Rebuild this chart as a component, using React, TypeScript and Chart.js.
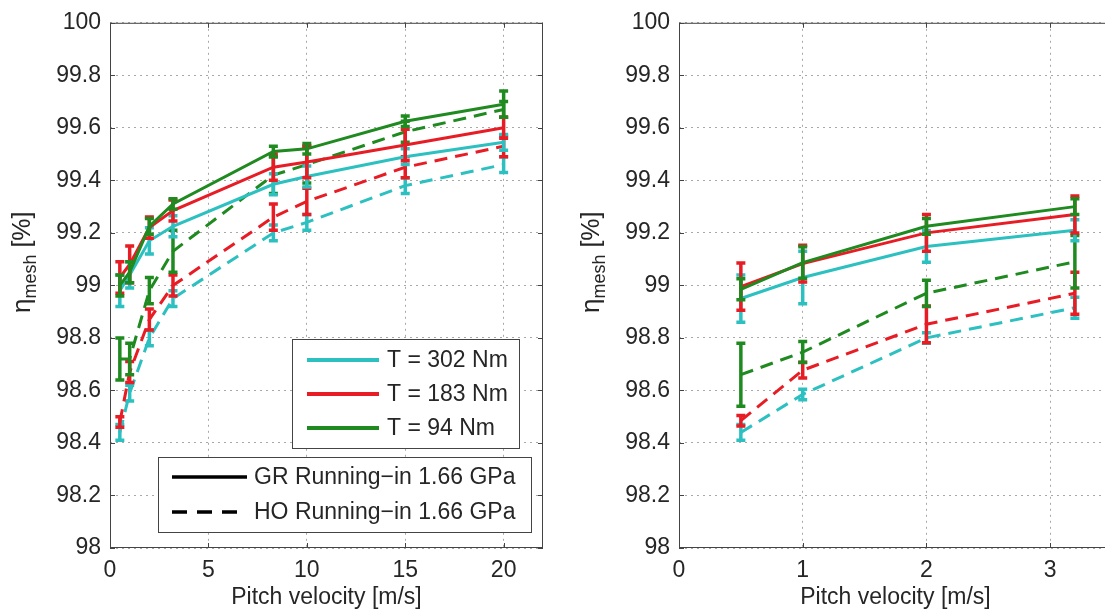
import React, { useEffect, useRef } from "react";
import { Chart, registerables } from "chart.js";

Chart.register(...registerables);

// ---------- data ----------
const leftX = [0.5, 1, 2, 3.2, 8.3, 10, 15, 20];
const rightX = [0.5, 1, 2, 3.2];
const leftXTicks = [0, 5, 10, 15, 20];
const rightXTicks = [0, 1, 2, 3];
const yTicks = [98, 98.2, 98.4, 98.6, 98.8, 99, 99.2, 99.4, 99.6, 99.8, 100];

const torqueLabels = ["T = 302 Nm", "T = 183 Nm", "T = 94 Nm"];
const methodLabels = ["GR Running\u2212in 1.66 GPa", "HO Running\u2212in 1.66 GPa"];

// left panel (0-20 m/s)
const leftGr302 = [98.98, 99.04, 99.17, 99.225, 99.385, 99.415, 99.49, 99.545];
const leftGr302Err = [0.06, 0.05, 0.05, 0.04, 0.04, 0.04, 0.03, 0.03];
const leftGr183 = [99.03, 99.08, 99.22, 99.285, 99.45, 99.47, 99.535, 99.6];
const leftGr183Err = [0.06, 0.07, 0.04, 0.04, 0.05, 0.06, 0.06, 0.04];
const leftGr94 = [99.0, 99.05, 99.225, 99.31, 99.51, 99.52, 99.625, 99.69];
const leftGr94Err = [0.04, 0.04, 0.03, 0.02, 0.02, 0.02, 0.02, 0.05];
const leftHo302 = [98.44, 98.59, 98.8, 98.95, 99.2, 99.24, 99.38, 99.46];
const leftHo302Err = [0.03, 0.03, 0.03, 0.03, 0.03, 0.03, 0.03, 0.03];
const leftHo183 = [98.48, 98.67, 98.87, 99.0, 99.26, 99.32, 99.45, 99.53];
const leftHo183Err = [0.02, 0.04, 0.04, 0.04, 0.05, 0.05, 0.04, 0.04];
const leftHo94 = [98.72, 98.72, 98.98, 99.13, 99.42, 99.46, 99.585, 99.67];
const leftHo94Err = [0.08, 0.06, 0.05, 0.08, 0.07, 0.07, 0.04, 0.03];

// right panel (0-3.2 m/s)
const rightGr302 = [98.95, 99.03, 99.148, 99.21];
const rightGr302Err = [0.09, 0.1, 0.06, 0.04];
const rightGr183 = [98.995, 99.083, 99.2, 99.27];
const rightGr183Err = [0.09, 0.07, 0.07, 0.07];
const rightGr94 = [98.985, 99.087, 99.225, 99.3];
const rightGr94Err = [0.04, 0.06, 0.03, 0.03];
const rightHo302 = [98.44, 98.585, 98.8, 98.915];
const rightHo302Err = [0.03, 0.02, 0.02, 0.04];
const rightHo183 = [98.485, 98.677, 98.852, 98.97];
const rightHo183Err = [0.02, 0.03, 0.07, 0.08];
const rightHo94 = [98.66, 98.746, 98.97, 99.09];
const rightHo94Err = [0.12, 0.04, 0.05, 0.1];

// ---------- styles ----------
const FONT = '"Liberation Sans", Arial, Helvetica, sans-serif';
const TEXT = "#262626";
const FRAME = "#444444";
const GRID = "#a8a8a8";
const CYAN = "#2dc0c0";
const RED = "#e81c24";
const GREEN = "#1f8a1f";
const DASH = [13, 8];

type Series = { label: string; color: string; dashed: boolean; values: number[]; errors: number[] };

const leftSeries: Series[] = [
  { label: "GR 94", color: GREEN, dashed: false, values: leftGr94, errors: leftGr94Err },
  { label: "GR 183", color: RED, dashed: false, values: leftGr183, errors: leftGr183Err },
  { label: "GR 302", color: CYAN, dashed: false, values: leftGr302, errors: leftGr302Err },
  { label: "HO 94", color: GREEN, dashed: true, values: leftHo94, errors: leftHo94Err },
  { label: "HO 183", color: RED, dashed: true, values: leftHo183, errors: leftHo183Err },
  { label: "HO 302", color: CYAN, dashed: true, values: leftHo302, errors: leftHo302Err },
];

const rightSeries: Series[] = [
  { label: "GR 94", color: GREEN, dashed: false, values: rightGr94, errors: rightGr94Err },
  { label: "GR 183", color: RED, dashed: false, values: rightGr183, errors: rightGr183Err },
  { label: "GR 302", color: CYAN, dashed: false, values: rightGr302, errors: rightGr302Err },
  { label: "HO 94", color: GREEN, dashed: true, values: rightHo94, errors: rightHo94Err },
  { label: "HO 183", color: RED, dashed: true, values: rightHo183, errors: rightHo183Err },
  { label: "HO 302", color: CYAN, dashed: true, values: rightHo302, errors: rightHo302Err },
];

const torqueColors = [CYAN, RED, GREEN];

// ---------- plugins ----------
const errorBarPlugin = {
  id: "errorBars",
  afterDatasetDraw(chart: any, args: any) {
    const ds = chart.data.datasets[args.index];
    const errs: number[] | undefined = ds.errors;
    if (!errs) return;
    const y = chart.scales.y;
    const ctx = chart.ctx;
    const a = chart.chartArea;
    ctx.save();
    ctx.beginPath();
    ctx.rect(a.left, a.top, a.right - a.left, a.bottom - a.top);
    ctx.clip();
    ctx.strokeStyle = ds.borderColor;
    ctx.lineWidth = 3.5;
    ctx.setLineDash([]);
    args.meta.data.forEach((pt: any, i: number) => {
      const v = ds.data[i].y;
      const e = errs[i];
      const top = y.getPixelForValue(v + e);
      const bot = y.getPixelForValue(v - e);
      const px = pt.x;
      ctx.beginPath();
      ctx.moveTo(px, top);
      ctx.lineTo(px, bot);
      ctx.moveTo(px - 4.5, top);
      ctx.lineTo(px + 4.5, top);
      ctx.moveTo(px - 4.5, bot);
      ctx.lineTo(px + 4.5, bot);
      ctx.stroke();
    });
    ctx.restore();
  },
};

const framePlugin = {
  id: "frame",
  afterDraw(chart: any) {
    const { ctx, chartArea: a, scales } = chart;
    ctx.save();
    ctx.strokeStyle = FRAME;
    ctx.lineWidth = 1;
    ctx.setLineDash([]);
    ctx.strokeRect(a.left + 0.5, a.top + 0.5, a.right - a.left - 1, a.bottom - a.top - 1);
    const L = 5;
    ctx.beginPath();
    scales.x.ticks.forEach((t: any) => {
      const px = Math.round(scales.x.getPixelForValue(t.value)) + 0.5;
      ctx.moveTo(px, a.bottom);
      ctx.lineTo(px, a.bottom - L);
      ctx.moveTo(px, a.top);
      ctx.lineTo(px, a.top + L);
    });
    scales.y.ticks.forEach((t: any) => {
      const py = Math.round(scales.y.getPixelForValue(t.value)) + 0.5;
      ctx.moveTo(a.left, py);
      ctx.lineTo(a.left + L, py);
      ctx.moveTo(a.right, py);
      ctx.lineTo(a.right - L, py);
    });
    ctx.stroke();
    ctx.restore();
  },
};

const yLabelPlugin = {
  id: "yLabel",
  afterDraw(chart: any) {
    const ctx = chart.ctx;
    const a = chart.chartArea;
    ctx.save();
    ctx.translate(a.left - 80, 313);
    ctx.rotate(-Math.PI / 2);
    ctx.fillStyle = TEXT;
    ctx.textBaseline = "alphabetic";
    ctx.textAlign = "left";
    ctx.font = `26px ${FONT}`;
    ctx.fillText("\u03B7", 0, 0);
    let w = ctx.measureText("\u03B7").width;
    ctx.font = `18px ${FONT}`;
    ctx.fillText("mesh", w, 6);
    w += ctx.measureText("mesh").width;
    ctx.font = `25px ${FONT}`;
    ctx.fillText(" [%]", w, 0);
    ctx.restore();
  },
};

const legendPlugin = {
  id: "legendBoxes",
  afterDraw(chart: any) {
    const ctx = chart.ctx;
    ctx.save();
    const box = (x: number, y: number, w: number, h: number) => {
      ctx.fillStyle = "#ffffff";
      ctx.fillRect(x, y, w, h);
      ctx.strokeStyle = FRAME;
      ctx.lineWidth = 1;
      ctx.setLineDash([]);
      ctx.strokeRect(x + 0.5, y + 0.5, w, h);
    };
    ctx.font = `23px ${FONT}`;
    ctx.textBaseline = "middle";
    ctx.textAlign = "left";
    // torque legend
    box(292, 339, 227, 109);
    torqueLabels.forEach((label, i) => {
      const yy = 360 + i * 34;
      ctx.strokeStyle = torqueColors[i];
      ctx.lineWidth = 4;
      ctx.setLineDash([]);
      ctx.beginPath();
      ctx.moveTo(307, yy);
      ctx.lineTo(379, yy);
      ctx.stroke();
      ctx.fillStyle = TEXT;
      ctx.fillText(label, 387, yy + 1);
    });
    // method legend
    box(158, 457, 373, 75);
    methodLabels.forEach((label, i) => {
      const yy = 477 + i * 35;
      ctx.strokeStyle = "#000000";
      ctx.lineWidth = 3.5;
      ctx.setLineDash(i === 0 ? [] : [15, 10]);
      ctx.beginPath();
      ctx.moveTo(172, yy);
      ctx.lineTo(247, yy);
      ctx.stroke();
      ctx.fillStyle = TEXT;
      ctx.fillText(label, 254, yy + 1);
    });
    ctx.restore();
  },
};

function buildConfig(xs: number[], xMax: number, xTicks: number[], series: Series[], withLegend: boolean): any {
  const tickFont = { family: FONT, size: 23 };
  return {
    type: "line",
    data: {
      datasets: series.map((s) => ({
        label: s.label,
        data: xs.map((x, i) => ({ x, y: s.values[i] })),
        errors: s.errors,
        borderColor: s.color,
        backgroundColor: s.color,
        borderWidth: 3,
        borderDash: s.dashed ? DASH : [],
        pointRadius: 0,
        tension: 0,
        fill: false,
      })),
    },
    options: {
      animation: false,
      responsive: false,
      devicePixelRatio: 1,
      events: [],
      layout: { padding: { top: 17, right: 17, left: 0, bottom: 0 } },
      plugins: {
        legend: { display: false },
        tooltip: { enabled: false },
        title: { display: false },
      },
      scales: {
        x: {
          type: "linear",
          min: 0,
          max: xMax,
          afterBuildTicks: (s: any) => {
            s.ticks = xTicks.map((v) => ({ value: v }));
          },
          afterFit: (s: any) => {
            s.height = 66;
          },
          ticks: { font: tickFont, color: TEXT, padding: 9, maxRotation: 0, autoSkip: false },
          grid: { color: GRID, lineWidth: 1, drawTicks: false },
          border: { display: false, dash: [2, 4] },
          title: {
            display: true,
            text: "Pitch velocity [m/s]",
            font: { family: FONT, size: 23 },
            color: TEXT,
            padding: { top: 0, bottom: 3 },
          },
        },
        y: {
          type: "linear",
          min: 98,
          max: 100,
          afterBuildTicks: (s: any) => {
            s.ticks = yTicks.map((v) => ({ value: v }));
          },
          afterFit: (s: any) => {
            s.width = 110;
          },
          ticks: {
            font: tickFont,
            color: TEXT,
            padding: 9,
            autoSkip: false,
            callback: (v: any) => String(Number(Number(v).toFixed(1))),
          },
          grid: { color: GRID, lineWidth: 1, drawTicks: false },
          border: { display: false, dash: [2, 4] },
        },
      },
    },
    plugins: [errorBarPlugin, framePlugin, yLabelPlugin, ...(withLegend ? [legendPlugin] : [])],
  };
}

function Panel(props: { left: number; xs: number[]; xMax: number; xTicks: number[]; series: Series[]; legend: boolean }) {
  const ref = useRef<HTMLCanvasElement | null>(null);
  useEffect(() => {
    if (!ref.current) return;
    const chart = new Chart(ref.current, buildConfig(props.xs, props.xMax, props.xTicks, props.series, props.legend));
    return () => chart.destroy();
  }, []);
  return (
    <canvas
      ref={ref}
      width={560}
      height={614}
      style={{ position: "absolute", left: props.left, top: 0, width: 560, height: 614 }}
    />
  );
}

export default function App() {
  return (
    <div
      style={{
        position: "fixed",
        left: 0,
        top: 0,
        width: 1105,
        height: 614,
        overflow: "hidden",
        background: "#ffffff",
      }}
    >
      <Panel left={0} xs={leftX} xMax={22} xTicks={leftXTicks} series={leftSeries} legend={true} />
      <Panel left={569} xs={rightX} xMax={3.5} xTicks={rightXTicks} series={rightSeries} legend={false} />
    </div>
  );
}
